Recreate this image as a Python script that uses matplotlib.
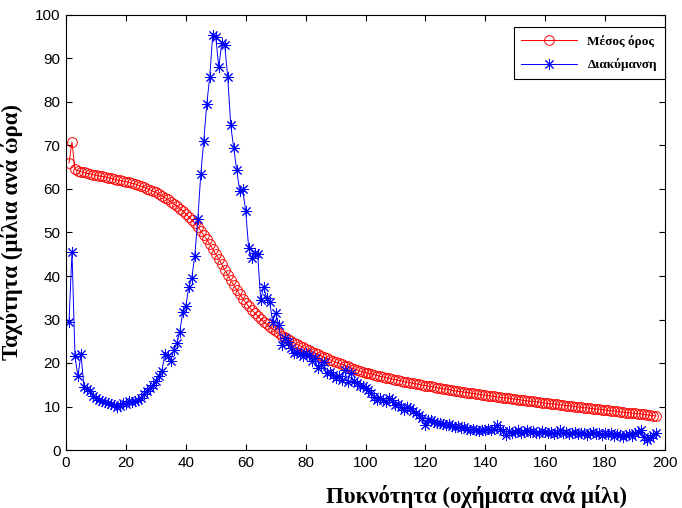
import numpy as np
import matplotlib
matplotlib.use('Agg')
import matplotlib.pyplot as plt

# density (vehicles per mile)
x = np.arange(1, 198)

# mean speed (red circles)
mean_speed = [
    66.0, 70.8, 64.5, 64.2, 64.0, 63.8, 63.6, 63.5, 63.3, 63.2,
    63.0, 62.9, 62.8, 62.6, 62.5, 62.3, 62.1, 62.0, 61.8, 61.7,
    61.5, 61.3, 61.2, 60.9, 60.7, 60.4, 60.1, 59.8, 59.5, 59.2,
    58.8, 58.4, 58.0, 57.6, 57.1, 56.6, 56.1, 55.5, 54.9, 54.3,
    53.6, 52.9, 52.1, 51.3, 50.4, 49.4, 48.4, 47.3, 46.2, 45.0,
    43.9, 42.7, 41.4, 40.2, 39.0, 37.9, 36.8, 35.8, 34.8, 33.9,
    33.0, 32.2, 31.5, 30.8, 30.1, 29.5, 28.9, 28.3, 27.8, 27.3,
    26.8, 26.3, 25.9, 25.5, 25.1, 24.7, 24.3, 24.0, 23.6, 23.2,
    22.9, 22.6, 22.3, 22.0, 21.7, 21.4, 21.1, 20.8, 20.5, 20.2,
    19.9, 19.7, 19.4, 19.2, 18.9, 18.7, 18.5, 18.2, 18.0, 17.8,
    17.6, 17.5, 17.3, 17.1, 16.9, 16.8, 16.6, 16.5, 16.3, 16.2,
    16.0, 15.9, 15.7, 15.6, 15.5, 15.3, 15.2, 15.1, 14.9, 14.8,
    14.7, 14.6, 14.5, 14.3, 14.2, 14.1, 14.0, 13.9, 13.7, 13.6,
    13.5, 13.4, 13.3, 13.2, 13.1, 13.0, 12.9, 12.8, 12.7, 12.6,
    12.5, 12.4, 12.3, 12.2, 12.1, 12.0, 12.0, 11.9, 11.8, 11.7,
    11.6, 11.5, 11.4, 11.3, 11.2, 11.2, 11.1, 11.0, 10.9, 10.8,
    10.7, 10.6, 10.6, 10.5, 10.4, 10.3, 10.2, 10.2, 10.1, 10.0,
    9.9, 9.8, 9.7, 9.7, 9.6, 9.5, 9.4, 9.4, 9.3, 9.2,
    9.1, 9.0, 9.0, 8.9, 8.8, 8.7, 8.6, 8.6, 8.5, 8.4,
    8.3, 8.3, 8.2, 8.1, 8.0, 7.9, 7.8,
]

# variance (blue asterisks)
variance = [
    29.5, 45.5, 21.5, 17.0, 22.0, 14.5, 14.0, 13.5, 12.5, 12.0,
    11.5, 11.2, 11.0, 10.8, 10.5, 10.3, 10.0, 10.2, 10.8, 10.5,
    11.2, 11.0, 11.3, 11.5, 12.0, 12.8, 13.5, 14.3, 15.0, 15.8,
    17.0, 18.2, 22.0, 21.5, 20.5, 23.0, 24.5, 27.2, 31.8, 33.0,
    37.5, 39.6, 44.6, 53.0, 63.4, 71.1, 79.5, 85.8, 95.5, 95.0,
    88.0, 93.5, 93.0, 85.8, 74.7, 69.4, 64.4, 59.6, 59.9, 54.9,
    46.4, 44.1, 45.2, 45.0, 34.5, 37.5, 34.9, 34.0, 29.5, 31.6,
    28.7, 24.1, 25.7, 24.9, 23.5, 22.2, 22.5, 22.0, 21.5, 22.2,
    21.8, 20.5, 21.1, 18.8, 19.5, 20.3, 17.6, 18.0, 17.2, 16.5,
    17.0, 16.2, 18.4, 15.7, 17.6, 15.8, 15.3, 14.8, 14.6, 14.2,
    13.8, 13.0, 12.2, 11.5, 12.0, 11.5, 11.0, 11.9, 11.5, 10.3,
    10.5, 10.0, 9.2, 9.8, 9.6, 8.9, 8.4, 8.0, 7.3, 5.7,
    7.0, 6.9, 6.5, 6.3, 6.1, 6.0, 5.7, 6.0, 5.6, 5.4,
    5.5, 5.0, 5.2, 4.8, 4.6, 4.9, 4.6, 4.4, 4.6, 4.5,
    4.8, 4.6, 4.9, 5.7, 4.8, 4.4, 3.4, 4.3, 4.0, 4.2,
    4.5, 4.0, 4.2, 4.6, 4.1, 4.4, 4.0, 3.8, 4.3, 4.1,
    3.9, 4.2, 3.7, 4.0, 4.5, 3.8, 4.1, 3.6, 3.9, 4.2,
    3.7, 3.9, 4.0, 3.5, 3.8, 4.1, 3.6, 3.9, 3.4, 3.8,
    3.6, 3.9, 3.3, 3.7, 3.5, 3.0, 3.4, 3.6, 3.2, 3.8,
    4.2, 4.6, 3.0, 2.3, 2.8, 3.4, 3.8,
]

xticks = np.arange(0, 201, 20)
yticks = np.arange(0, 101, 10)

fig = plt.figure(figsize=(6.82, 5.08), dpi=100)
ax = fig.add_axes([66/682, 58/508, 599/682, 435/508])

ax.plot(x, mean_speed, color='red', lw=0.7, marker='o', markersize=7,
        markerfacecolor='none', markeredgecolor='red', markeredgewidth=0.7,
        label='Μέσος όρος')
ax.plot(x, variance, color='blue', lw=0.7, marker=(8, 2, 0), markersize=8,
        markeredgecolor='blue', markeredgewidth=0.7, label='Διακύμανση')

ax.set_xlim(0, 200)
ax.set_ylim(0, 100)
ax.set_xticks(xticks)
ax.set_yticks(yticks)
ax.tick_params(direction='in', top=True, right=True, length=4, width=0.8,
               labelsize=11, pad=4)
for lab in ax.get_xticklabels() + ax.get_yticklabels():
    lab.set_family('Liberation Sans')
for s in ax.spines.values():
    s.set_linewidth(0.8)

ax.set_xlabel('Πυκνότητα (οχήματα ανά μίλι)', fontsize=16.5, fontweight='bold',
              family='Liberation Serif')
ax.xaxis.set_label_coords(0.685, -0.08)
ax.set_ylabel('Ταχύτητα (μίλια ανά ώρα)', fontsize=16.5, fontweight='bold',
              family='Liberation Serif')
ax.yaxis.set_label_coords(-0.072, 0.5)

leg = ax.legend(loc='upper right', bbox_to_anchor=(1.0, 0.972), borderaxespad=0,
                fancybox=False, framealpha=1, edgecolor='black', handlelength=4.2,
                labelspacing=0.8, borderpad=0.6,
                prop={'family': 'Liberation Serif', 'weight': 'bold', 'size': 9.5})
leg.get_frame().set_linewidth(0.8)

fig.savefig('out.png', dpi=100)
